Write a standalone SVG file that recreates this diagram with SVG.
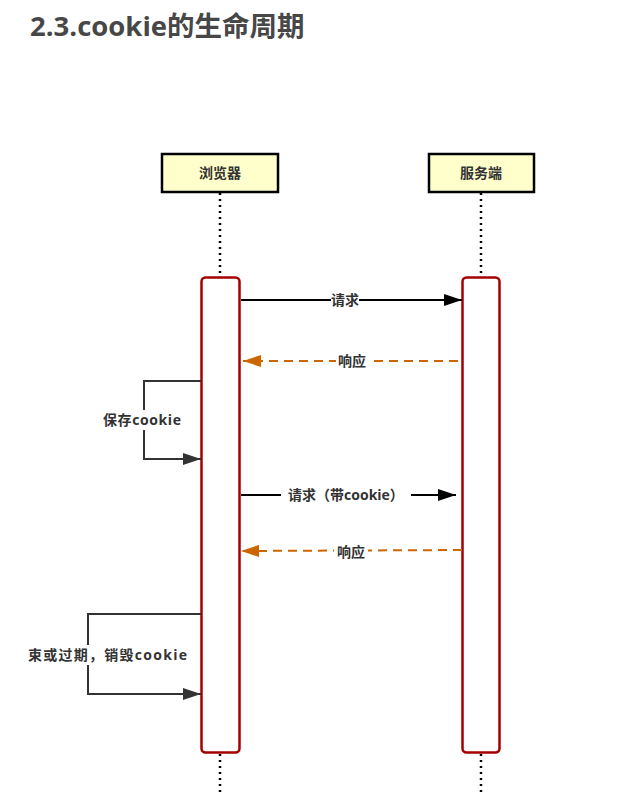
<svg xmlns="http://www.w3.org/2000/svg" width="626" height="796" viewBox="0 0 626 796">
  <style>
    .title { font-family: "Open Sans", "Noto Sans CJK SC", sans-serif; font-weight: bold; font-size: 27.5px; fill: #474747; }
    .lbl { font-family: "Open Sans", "Noto Sans CJK SC", sans-serif; font-weight: bold; font-size: 14px; fill: #333; }
    .head { fill: #ffffcc; stroke: #000; stroke-width: 2.5; }
    .life { stroke: #000; stroke-width: 2.5; stroke-dasharray: 2 4; fill: none; }
    .act { fill: #fff; stroke: #a50000; stroke-width: 2.5; }
    .msg { stroke: #000; stroke-width: 2; fill: none; }
    .ret { stroke: #cc6600; stroke-width: 2; stroke-dasharray: 9 6; fill: none; }
    .self { stroke: #333; stroke-width: 2; fill: none; }
    .bg { fill: #fff; }
  </style>
  <defs>
    <marker id="solid" markerWidth="18" markerHeight="12" refX="18" refY="6" orient="auto" markerUnits="userSpaceOnUse">
      <path d="M0,0 L18,6 L0,12 Z" fill="#000"/>
    </marker>
    <marker id="orange" markerWidth="18" markerHeight="12" refX="18" refY="6" orient="auto" markerUnits="userSpaceOnUse">
      <path d="M0,0 L18,6 L0,12 Z" fill="#cc6600"/>
    </marker>
    <marker id="gray" markerWidth="18" markerHeight="12" refX="18" refY="6" orient="auto" markerUnits="userSpaceOnUse">
      <path d="M0,0 L18,6 L0,12 Z" fill="#333"/>
    </marker>
  </defs>

  <rect width="626" height="796" fill="#fff"/>
  <text class="title" x="30" y="36">2.3.cookie的生命周期</text>

  <!-- lifelines -->
  <g id="lifelines">
    <line class="life" x1="220" y1="193" x2="220" y2="277"/>
    <line class="life" x1="220" y1="754" x2="220" y2="796"/>
    <line class="life" x1="481" y1="193" x2="481" y2="277"/>
    <line class="life" x1="481" y1="754" x2="481" y2="796"/>
  </g>

  <g id="browser">
    <rect class="head" x="162" y="154" width="116" height="38"/>
    <text class="lbl" x="220" y="178" text-anchor="middle">浏览器</text>
    <rect class="act" x="201.5" y="277.5" width="38" height="475" rx="4"/>
  </g>

  <g id="server">
    <rect class="head" x="429" y="154" width="105" height="38"/>
    <text class="lbl" x="481" y="178" text-anchor="middle">服务端</text>
    <rect class="act" x="462.5" y="277.5" width="37" height="475" rx="4"/>
  </g>

  <g id="connectors">
    <!-- request -->
    <line class="msg" x1="241" y1="300" x2="462" y2="300" marker-end="url(#solid)"/>
    <rect class="bg" x="331" y="292" width="28" height="16"/>
    <text class="lbl" x="345" y="305" text-anchor="middle">请求</text>

    <!-- response -->
    <line class="ret" x1="458" y1="361" x2="243" y2="361" marker-end="url(#orange)"/>
    <rect class="bg" x="336" y="353" width="32" height="16"/>
    <text class="lbl" x="352" y="366" text-anchor="middle">响应</text>

    <!-- store cookie -->
    <polyline class="self" points="201,381 144,381 144,459 201,459" marker-end="url(#gray)"/>
    <rect class="bg" x="102" y="410" width="84" height="20"/>
    <text class="lbl" x="103" y="425" letter-spacing="0.6">保存cookie</text>

    <!-- request with cookie -->
    <line class="msg" x1="241" y1="495" x2="456" y2="495" marker-end="url(#solid)"/>
    <rect class="bg" x="281" y="486" width="130" height="18"/>
    <text class="lbl" x="346" y="500" text-anchor="middle">请求（带cookie）</text>

    <!-- response -->
    <line class="ret" x1="462" y1="550" x2="241" y2="551" marker-end="url(#orange)"/>
    <rect class="bg" x="334" y="543" width="34" height="16"/>
    <text class="lbl" x="351" y="557" text-anchor="middle">响应</text>

    <!-- destroy cookie -->
    <polyline class="self" points="201,614 88,614 88,694 201,694" marker-end="url(#gray)"/>
    <rect class="bg" x="27" y="645" width="162" height="20"/>
    <text class="lbl" x="28" y="660" textLength="159" lengthAdjust="spacing">束或过期，销毁cookie</text>
  </g>
</svg>
